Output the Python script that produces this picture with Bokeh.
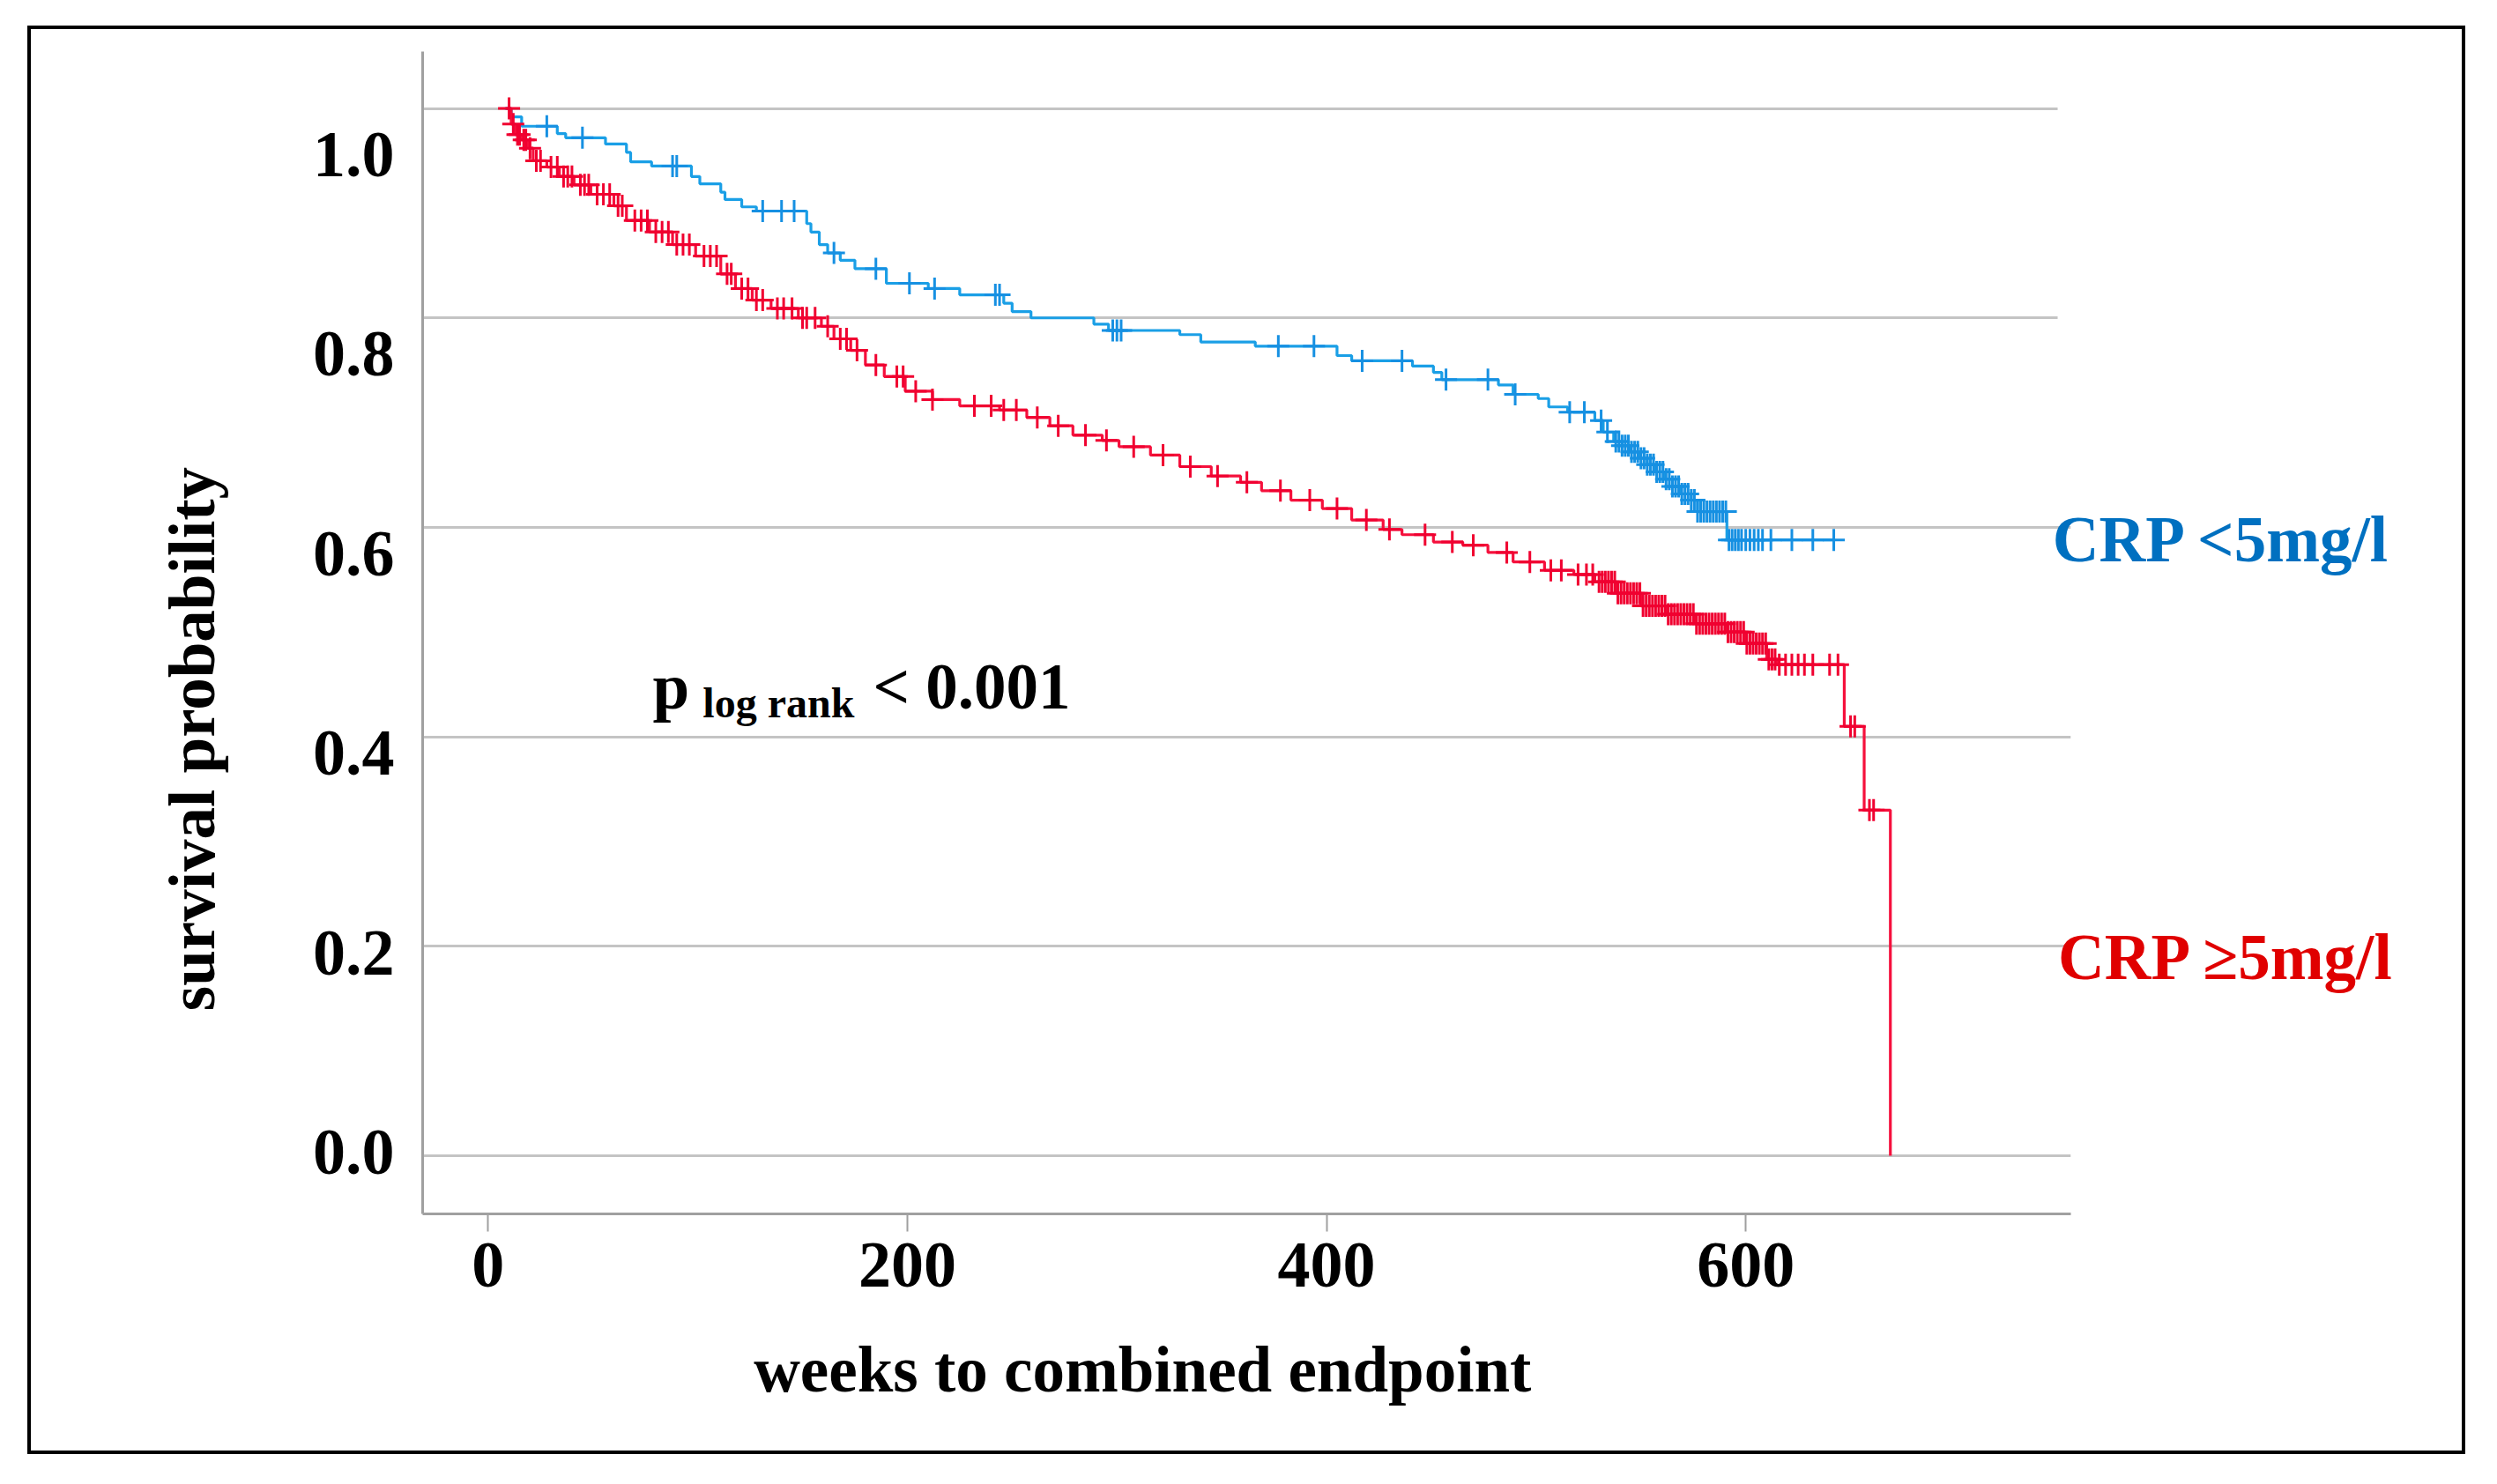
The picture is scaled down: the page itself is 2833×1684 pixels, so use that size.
import numpy as np
from bokeh.plotting import figure
from bokeh.models import (Range1d, LinearAxis, FixedTicker, Grid, Label, NumeralTickFormatter,
                          BoxAnnotation)
from bokeh.embed import file_html
from bokeh.resources import INLINE

# ---------------- data ----------------
blue_times = [8, 11, 16, 33, 37, 56, 66, 68, 78, 97, 101, 111, 113, 121, 128, 152, 154, 158, 162, 168,
              175, 190, 210, 225, 246, 250, 259, 289, 296, 330, 340, 366, 405, 412, 441, 451, 455, 482, 489, 501,
              506, 515, 528, 532, 537, 541, 545, 549, 553, 557, 561, 565, 569, 574, 577, 591]
blue_surv = [1.0, 0.992, 0.983, 0.976, 0.972, 0.966, 0.958, 0.949, 0.945, 0.935, 0.928, 0.920, 0.913, 0.906, 0.902,
             0.890, 0.882, 0.870, 0.862, 0.855, 0.847, 0.833, 0.828, 0.822, 0.814, 0.806, 0.800, 0.794, 0.788, 0.784,
             0.777, 0.773, 0.764, 0.759, 0.754, 0.748, 0.741, 0.736, 0.727, 0.723, 0.715, 0.710, 0.702, 0.691, 0.682,
             0.678, 0.672, 0.666, 0.660, 0.653, 0.646, 0.639, 0.632, 0.626, 0.615, 0.588]
blue_censor = [28, 45, 88, 90, 131, 140, 146, 165, 185, 201, 213, 242, 244, 298, 300, 302, 377, 394, 417, 436,
               457, 477, 490, 516, 523, 531, 534, 538, 539.5, 541, 542.5, 544, 545.5, 547, 548.5, 550, 551.5,
               553, 554.5, 556, 557.5, 559, 560.5, 562, 563.5, 565, 566.5, 568, 569.5, 571, 572.5, 574, 575.5,
               577, 578.5, 580, 581.5, 583, 584.5, 586, 587.5, 589, 590.5, 592, 593.5, 595, 596.5, 598, 600,
               602, 604, 606, 608, 612, 622, 632, 642]

red_times = [8.6, 11, 13, 16, 19, 21.5, 28, 34, 41, 49, 60, 66, 77, 88, 99, 111, 118, 126, 135, 148, 159, 165,
             173, 180, 189, 199, 212, 225, 244, 257, 268, 279, 293, 301, 316, 330, 345, 359, 369, 383, 398, 412,
             427, 436, 451, 465, 477, 489, 504, 518, 528, 538, 550, 562, 576, 591, 600, 610, 615, 647, 656.5, 669]
red_surv = [1.0, 0.985, 0.975, 0.970, 0.962, 0.950, 0.944, 0.935, 0.927, 0.918, 0.907, 0.893, 0.882, 0.870, 0.859,
            0.842, 0.828, 0.817, 0.809, 0.800, 0.792, 0.780, 0.769, 0.755, 0.744, 0.730, 0.722, 0.716, 0.712, 0.705,
            0.697, 0.688, 0.683, 0.677, 0.669, 0.658, 0.649, 0.643, 0.635, 0.626, 0.618, 0.607, 0.598, 0.593, 0.586,
            0.583, 0.576, 0.567, 0.559, 0.555, 0.548, 0.537, 0.525, 0.517, 0.508, 0.500, 0.489, 0.474, 0.469, 0.410,
            0.330, 0.0]
red_censor = [10, 12, 14, 15, 17, 18, 20, 23, 25, 30, 33, 36, 38, 40, 44, 46, 48, 52, 55, 58, 62, 64, 70, 73, 76,
              80, 83, 86, 90, 93, 96, 103, 106, 109, 114, 116, 121, 124, 128, 131, 138, 141, 145, 150, 152, 156,
              162, 168, 171, 176, 185, 195, 198, 204, 212, 232, 240, 246, 252, 262, 272, 285, 295, 308, 322, 335,
              348, 362, 378, 392, 405, 419, 430, 447, 460, 470, 486, 497, 507, 512, 520, 524, 527, 530, 531.5,
              533, 534.5, 536, 537.5, 539, 540.5, 542, 543.5, 545, 546.5, 548, 549.5, 551, 552.5, 554, 555.5,
              557, 558.5, 560, 561.5, 563, 564.5, 566, 567.5, 569, 570.5, 572, 573.5, 575, 576.5, 578, 579.5,
              581, 582.5, 584, 585.5, 587, 588.5, 590, 591.5, 593, 594.5, 596, 597.5, 599, 600.5, 602, 603.5,
              605, 606.5, 608, 609.5, 611, 612.5, 614, 616, 619, 622, 625, 628, 632, 640, 644, 650, 652, 659, 661]

x_ticks = [0, 200, 400, 600]
y_ticks = [0.0, 0.2, 0.4, 0.6, 0.8, 1.0]

group_labels = ["CRP <5mg/l", "CRP \u22655mg/l"]
x_title = "weeks to combined endpoint"
y_title = "survival probability"
p_text = ["p", "log rank", "< 0.001"]

# ---------------- styling ----------------
FONT = "Liberation Serif"
BLUE_LINE = "#1a9fe6"
BLUE_MARK = "#1690e2"
RED_LINE = "#f5103c"
RED_MARK = "#f00030"
BLUE_TEXT = "#0070c0"
RED_TEXT = "#e00000"
AXIS_GRAY = "#a0a0a0"
GRID_GRAY = "#c4c4c4"

X_START, X_END = -31.24, 941.8      # frame runs to the right-hand border
X_AXIS_END = 755.0                   # where the x axis line / lower gridlines stop
X_UPPER_GRID_END = 748.8             # upper gridlines stop a bit earlier
Y_START, Y_END = -0.0555, 1.0543
TXT_SHIFT = 0.021                    # baseline correction for Label text


def km_at(times, surv, t):
    idx = np.searchsorted(np.asarray(times), np.asarray(t), side="right") - 1
    return np.asarray(surv)[idx]


p = figure(width=2758, height=1613, output_backend="svg", toolbar_location=None,
           x_range=Range1d(X_START, X_END), y_range=Range1d(Y_START, Y_END),
           y_axis_location=None, min_border_left=444, min_border_right=8,
           min_border_top=25, min_border_bottom=277)
p.margin = (29, 0, 0, 31)
p.styles = {"border": "4px solid black", "box-sizing": "content-box"}
p.outline_line_color = None
p.background_fill_color = "white"
p.border_fill_color = "white"
p.xgrid.grid_line_color = None

# x axis
xa = p.xaxis[0]
xa.ticker = FixedTicker(ticks=x_ticks)
xa.bounds = (X_START, X_AXIS_END)
xa.axis_line_color = AXIS_GRAY
xa.axis_line_width = 3
xa.major_tick_line_color = AXIS_GRAY
xa.major_tick_line_width = 2
xa.major_tick_out = 20
xa.major_tick_in = 0
xa.minor_tick_out = 0
xa.minor_tick_in = 0
xa.major_label_standoff = 13
xa.major_label_text_font = FONT
xa.major_label_text_font_style = "bold"
xa.major_label_text_font_size = "74px"
xa.major_label_text_color = "black"

# x title (as a bare outer axis whose single label is the title)
x_title_pos = 312.2
xt = LinearAxis(ticker=FixedTicker(ticks=[x_title_pos]), major_label_overrides={x_title_pos: x_title})
xt.axis_line_color = None
xt.major_tick_line_color = None
xt.minor_tick_line_color = None
xt.major_tick_out = 0
xt.minor_tick_out = 0
xt.major_label_standoff = 51
xt.major_label_text_font = FONT
xt.major_label_text_font_style = "bold"
xt.major_label_text_font_size = "73px"
xt.major_label_text_color = "black"
p.add_layout(xt, "below")

# y axis (tick labels sit on their own scale, as in the original figure)
p.extra_y_ranges = {"lab": Range1d(-0.0618, 1.1029)}
ya = LinearAxis(y_range_name="lab", ticker=FixedTicker(ticks=y_ticks),
                formatter=NumeralTickFormatter(format="0.0"))
ya.axis_line_color = AXIS_GRAY
ya.axis_line_width = 3
ya.major_tick_out = 0
ya.major_tick_in = 0
ya.minor_tick_out = 0
ya.minor_tick_in = 0
ya.major_label_standoff = 32
ya.major_label_text_font = FONT
ya.major_label_text_font_style = "bold"
ya.major_label_text_font_size = "74px"
ya.major_label_text_color = "black"
p.add_layout(ya, "left")

# y title
y_title_pos = 0.398
yt = LinearAxis(ticker=FixedTicker(ticks=[y_title_pos]), major_label_overrides={y_title_pos: y_title},
                major_label_orientation="vertical")
yt.axis_line_color = None
yt.major_tick_line_color = None
yt.minor_tick_line_color = None
yt.major_tick_out = 0
yt.minor_tick_out = 0
yt.major_label_standoff = 92
yt.major_label_text_font = FONT
yt.major_label_text_font_style = "bold"
yt.major_label_text_font_size = "73px"
yt.major_label_text_color = "black"
p.add_layout(yt, "left")

grid = Grid(dimension=1, ticker=FixedTicker(ticks=y_ticks), grid_line_color=GRID_GRAY, grid_line_width=3)
p.add_layout(grid)
# the gridlines stop where the x axis stops
p.add_layout(BoxAnnotation(left=X_UPPER_GRID_END, bottom=0.7, fill_color="white", fill_alpha=1,
                           line_color=None, level="underlay"))
p.add_layout(BoxAnnotation(left=X_AXIS_END, fill_color="white", fill_alpha=1,
                           line_color=None, level="underlay"))

# curves
bt = list(blue_times) + [max(blue_censor)]
bs = list(blue_surv) + [blue_surv[-1]]
p.step(bt, bs, mode="after", line_color=BLUE_LINE, line_width=3.2)
p.step(red_times, red_surv, mode="after", line_color=RED_LINE, line_width=3.2)

p.scatter(blue_censor, km_at(blue_times, blue_surv, blue_censor), marker="cross", size=25,
          line_color=BLUE_MARK, line_width=3)
p.scatter(red_censor, km_at(red_times, red_surv, red_censor), marker="cross", size=25,
          line_color=RED_MARK, line_width=3)


def lab(x, y, text, size, color="black"):
    p.add_layout(Label(x=x, y=y + TXT_SHIFT, text=text, text_font=FONT, text_font_style="bold",
                       text_font_size=size, text_color=color, text_align="left",
                       text_baseline="alphabetic"))


lab(746.4, 0.5669, group_labels[0], "73px", BLUE_TEXT)
lab(749.0, 0.1684, group_labels[1], "73px", RED_TEXT)
lab(78.5, 0.4272, p_text[0], "75px")
lab(102.4, 0.4117, p_text[1], "48px")
lab(183.6, 0.4266, p_text[2], "73px")

open("out.html", "w").write(file_html(p, INLINE))
